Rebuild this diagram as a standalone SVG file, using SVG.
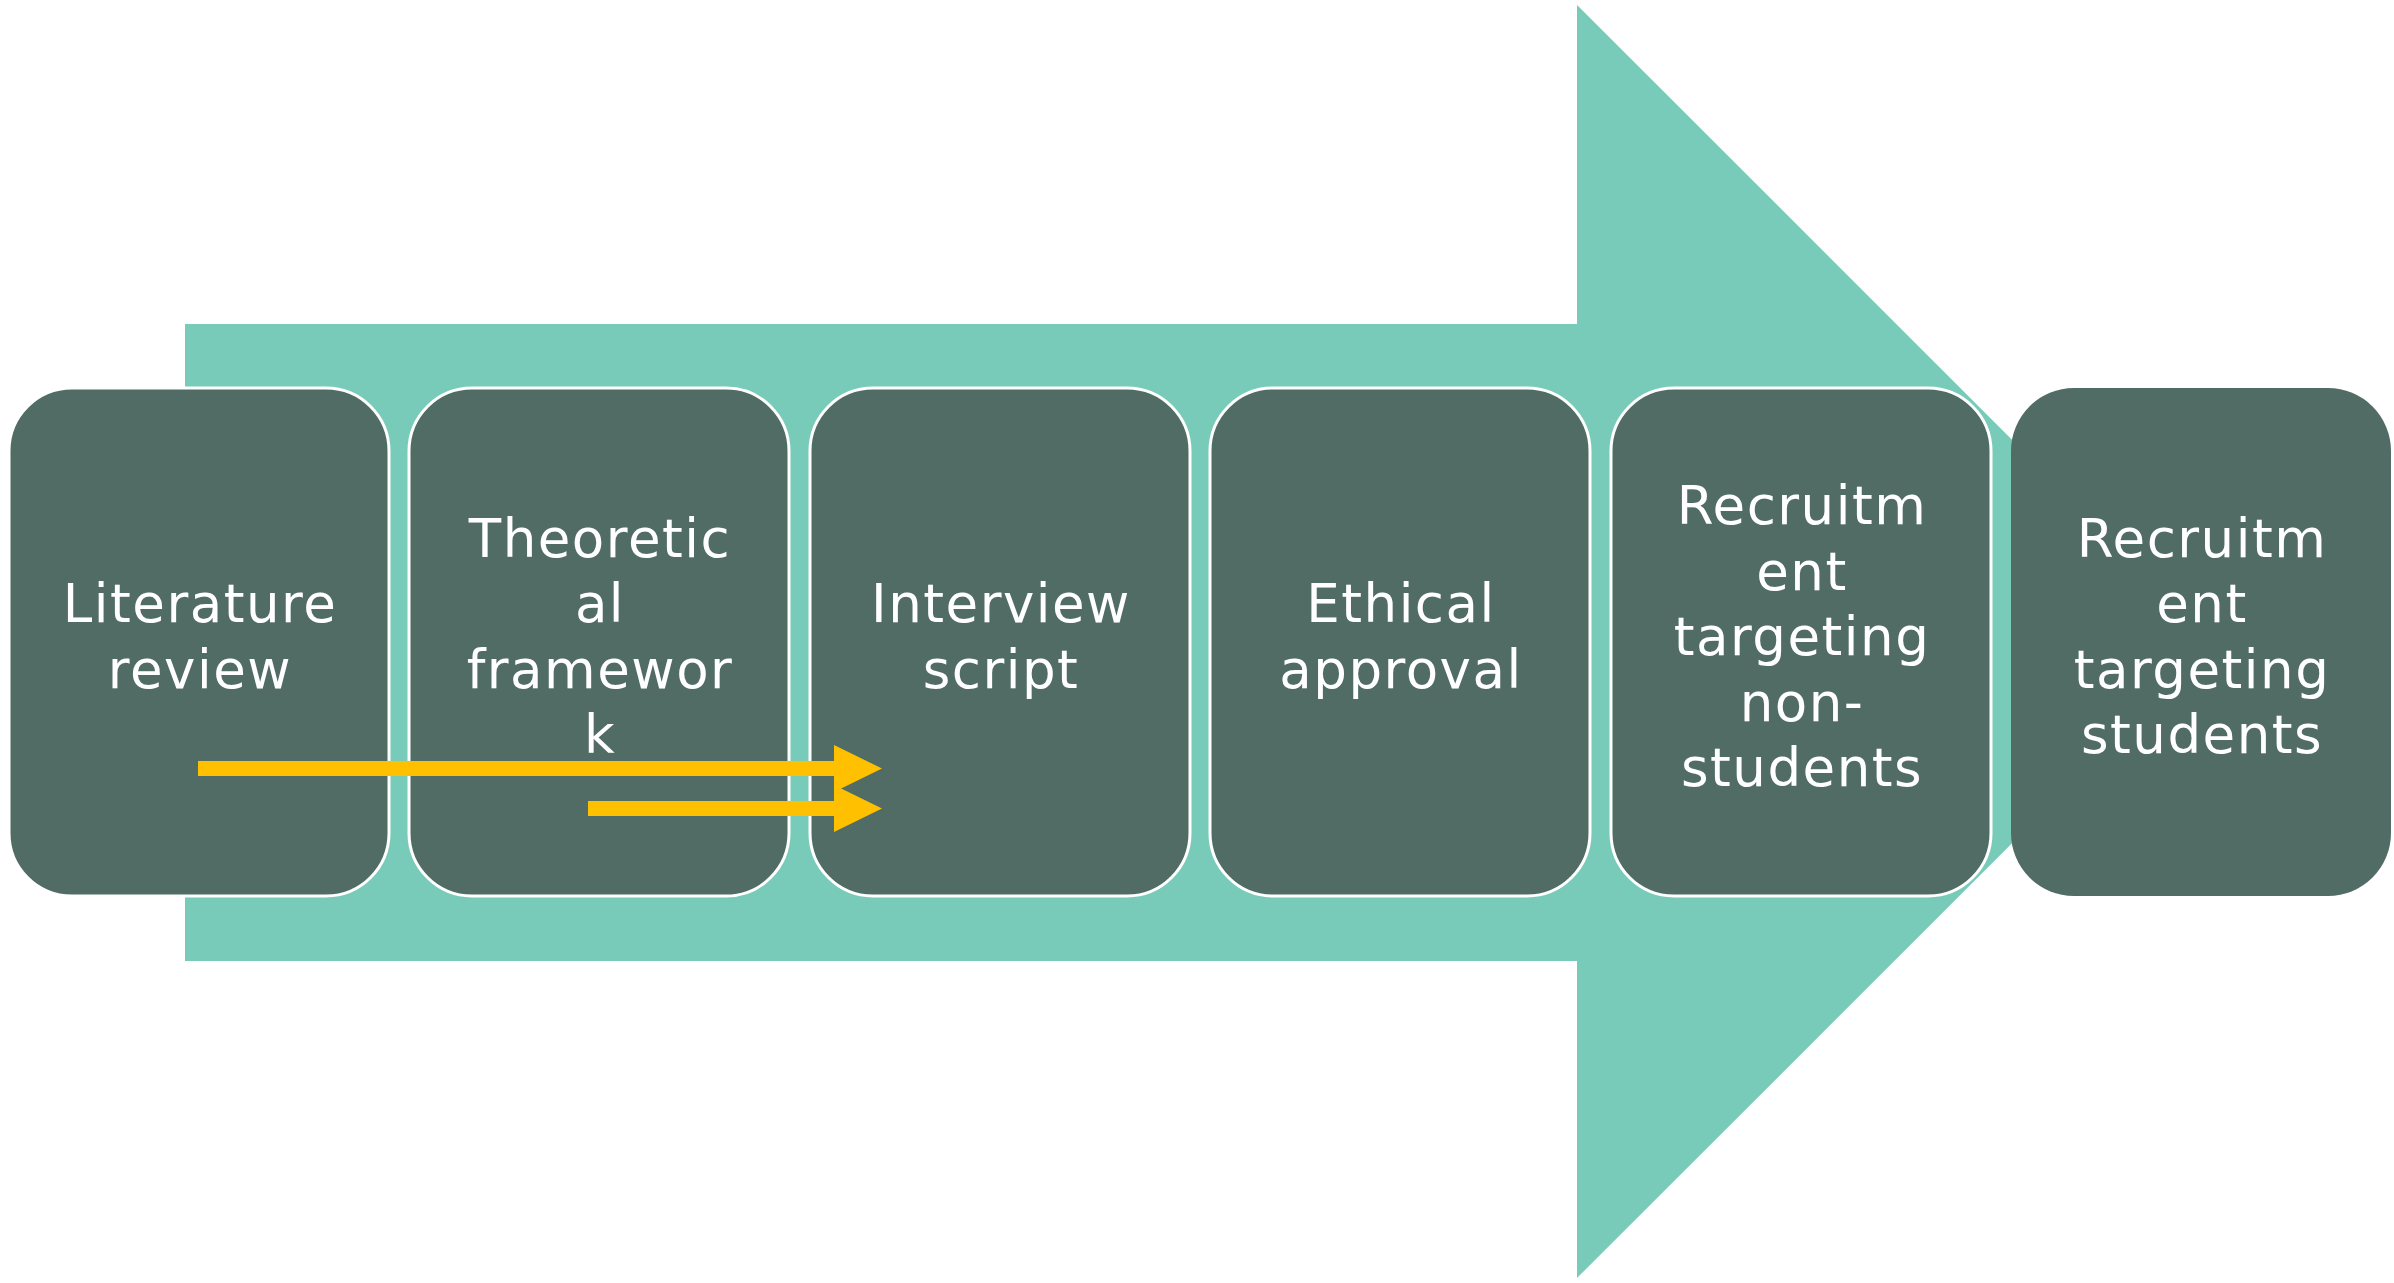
<svg xmlns="http://www.w3.org/2000/svg" width="2394" height="1283" viewBox="0 0 2394 1283">
  <style>
    .step { fill: #516C65; stroke: #FFFFFF; stroke-width: 3; }
    .step.last { stroke: none; }
    .label { fill: #FFFFFF; font-family: "DejaVu Sans", "Noto Sans", "Liberation Sans", sans-serif; font-size: 53px; letter-spacing: 1.5px; text-anchor: middle; }
    .flow { fill: #FFC000; }
  </style>

  <rect width="2394" height="1283" fill="#FFFFFF"/>

  <!-- background block arrow -->
  <polygon id="process-arrow" fill="#79CBB9" points="185,324 1577,324 1577,5 2214,641.5 1577,1278 1577,961 185,961"/>

  <g id="step-literature-review">
    <rect class="step" x="9" y="388" width="380" height="508" rx="63" ry="63"/>
    <text class="label"><tspan x="200" y="622">Literature</tspan><tspan x="200" y="687.5">review</tspan></text>
  </g>

  <g id="step-theoretical-framework">
    <rect class="step" x="409" y="388" width="380" height="508" rx="63" ry="63"/>
    <text class="label"><tspan x="600" y="556.5">Theoretic</tspan><tspan x="600" y="622">al</tspan><tspan x="600" y="687.5">framewor</tspan><tspan x="600" y="753">k</tspan></text>
  </g>

  <g id="step-interview-script">
    <rect class="step" x="810" y="388" width="380" height="508" rx="63" ry="63"/>
    <text class="label"><tspan x="1001" y="622">Interview</tspan><tspan x="1001" y="687.5">script</tspan></text>
  </g>

  <g id="step-ethical-approval">
    <rect class="step" x="1210" y="388" width="380" height="508" rx="63" ry="63"/>
    <text class="label"><tspan x="1401" y="622">Ethical</tspan><tspan x="1401" y="687.5">approval</tspan></text>
  </g>

  <g id="step-recruitment-non-students">
    <rect class="step" x="1611" y="388" width="380" height="508" rx="63" ry="63"/>
    <text class="label"><tspan x="1802" y="524">Recruitm</tspan><tspan x="1802" y="589.5">ent</tspan><tspan x="1802" y="655">targeting</tspan><tspan x="1802" y="720.5">non-</tspan><tspan x="1802" y="786">students</tspan></text>
  </g>

  <g id="step-recruitment-students">
    <rect class="step last" x="2011" y="388" width="380" height="508" rx="63" ry="63"/>
    <text class="label"><tspan x="2202" y="556.5">Recruitm</tspan><tspan x="2202" y="622">ent</tspan><tspan x="2202" y="687.5">targeting</tspan><tspan x="2202" y="753">students</tspan></text>
  </g>

  <!-- yellow flow arrows -->
  <g id="connectors">
    <polygon class="flow" points="198,761 834,761 834,745 882,768.5 834,792 834,776 198,776"/>
    <polygon class="flow" points="588,801 834,801 834,785 882,808.5 834,832 834,816 588,816"/>
  </g>
</svg>
